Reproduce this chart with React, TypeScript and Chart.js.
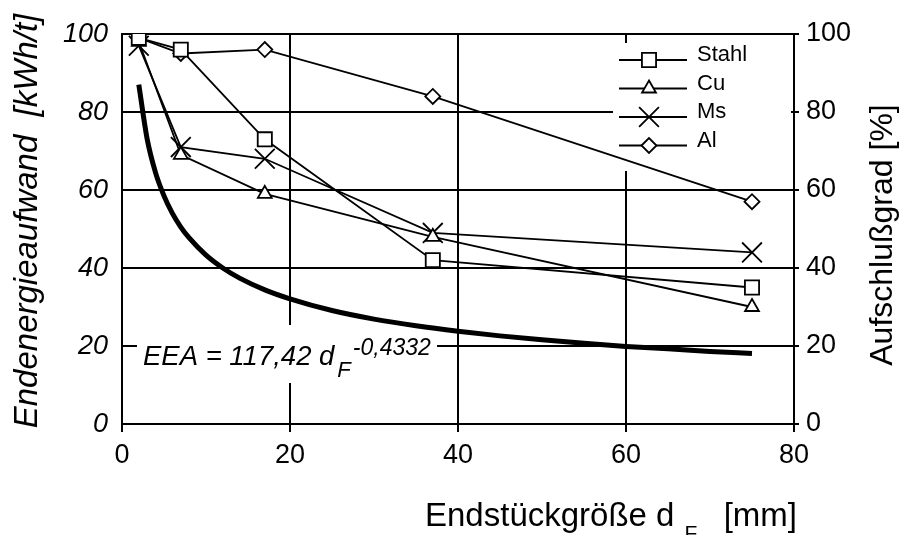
import React, { useEffect, useRef } from "react";
import { Chart, registerables } from "chart.js";
import { drawPoint } from "chart.js/helpers";

Chart.register(...registerables);

// ---- data ----
const sizes = [2, 7, 17, 37, 75];
const stahl = [99, 96, 73, 42, 35];
const cu = [98, 69, 59, 48, 30];
const ms = [97, 71, 68, 49, 44];
const al = [99, 95, 96, 84, 57];

const fitSizes = [2, 3, 4, 5, 6, 7, 8, 10, 12, 14, 17, 20, 25, 30, 35, 40, 45, 50, 55, 60, 65, 70, 75];
const fitEEA = [87.0, 73.0, 64.4, 58.5, 54.0, 50.5, 47.7, 43.3, 40.0, 37.4, 34.4, 32.1, 29.1, 26.9, 25.2, 23.8, 22.6, 21.6, 20.7, 19.9, 19.3, 18.6, 18.1];

const xTicks = [0, 20, 40, 60, 80];
const yTicks = [0, 20, 40, 60, 80, 100];

const seriesNames = ["Stahl", "Cu", "Ms", "Al"];
const seriesValues = [stahl, cu, ms, al];
const seriesStyles = ["rect", "triangle", "crossRot", "rectRot"];
const seriesRadius = [10, 8, 14, 7.5];

const leftTitle = "Endenergieaufwand  [kWh/t]";
const rightTitle = "Aufschlußgrad [%]";
const bottomTitleMain = "Endstückgröße d";
const bottomTitleSub = "F";
const bottomTitleUnit = "[mm]";
const eqMain = "EEA = 117,42 d";
const eqSub = "F";
const eqSup = "-0,4332";

const FONT = "'Liberation Sans', Arial, Helvetica, sans-serif";

const overlay = {
  id: "overlay",
  beforeDatasetsDraw(chart: any) {
    const ctx = chart.ctx;
    ctx.save();
    ctx.fillStyle = "#fff";
    // legend background
    ctx.fillRect(613, 43, 178, 128);
    // equation background
    ctx.fillRect(137, 325, 300, 58);
    ctx.restore();
  },
  afterDraw(chart: any) {
    const ctx = chart.ctx;
    ctx.save();
    ctx.fillStyle = "#000";
    ctx.strokeStyle = "#000";

    // legend
    for (let i = 0; i < seriesNames.length; i++) {
      const ds = chart.data.datasets[i];
      const ly = 60 + i * 28.5;
      ctx.lineWidth = 1.8;
      ctx.beginPath();
      ctx.moveTo(619, ly);
      ctx.lineTo(687, ly);
      ctx.stroke();
      ctx.fillStyle = "#fff";
      ctx.strokeStyle = "#000";
      ctx.lineWidth = 1.8;
      drawPoint(ctx, { pointStyle: ds.pointStyle, radius: ds.pointRadius, rotation: 0, borderWidth: 1.8 }, 649, ly);
      ctx.fillStyle = "#000";
      ctx.font = `22px ${FONT}`;
      ctx.textAlign = "left";
      ctx.textBaseline = "alphabetic";
      ctx.fillText(ds.label, 697, ly + 1);
    }

    // equation
    ctx.fillStyle = "#000";
    ctx.textAlign = "left";
    ctx.textBaseline = "alphabetic";
    ctx.font = `italic 27.5px ${FONT}`;
    ctx.fillText(eqMain, 143, 365);
    const w1 = ctx.measureText(eqMain).width;
    ctx.font = `italic 22px ${FONT}`;
    ctx.fillText(eqSub, 143 + w1 + 3, 377);
    const w2 = ctx.measureText(eqSub).width;
    ctx.font = `italic 23px ${FONT}`;
    ctx.fillText(eqSup, 143 + w1 + 3 + w2 + 2, 355);

    // left title
    ctx.save();
    ctx.translate(37, 221);
    ctx.rotate(-Math.PI / 2);
    ctx.font = `italic 33px ${FONT}`;
    ctx.textAlign = "center";
    ctx.fillText(leftTitle, 0, 0);
    ctx.restore();

    // right title
    ctx.save();
    ctx.translate(892, 235);
    ctx.rotate(-Math.PI / 2);
    ctx.font = `32px ${FONT}`;
    ctx.textAlign = "center";
    ctx.fillText(rightTitle, 0, 0);
    ctx.restore();

    // bottom title
    ctx.font = `33px ${FONT}`;
    ctx.textAlign = "left";
    ctx.fillText(bottomTitleMain, 425, 526);
    const bw = ctx.measureText(bottomTitleMain).width;
    ctx.font = `21px ${FONT}`;
    ctx.fillText(bottomTitleSub, 425 + bw + 10, 540);
    ctx.font = `33px ${FONT}`;
    ctx.textAlign = "right";
    ctx.fillText(bottomTitleUnit, 797, 526);

    ctx.restore();
  },
};

export default function App() {
  const ref = useRef<HTMLCanvasElement | null>(null);

  useEffect(() => {
    if (!ref.current) return;
    const seriesDatasets = seriesNames.map((name, i) => ({
      label: name,
      data: sizes.map((x, j) => ({ x, y: seriesValues[i][j] })),
      yAxisID: "y2",
      borderColor: "#000",
      borderWidth: 1.8,
      pointStyle: seriesStyles[i],
      pointRadius: seriesRadius[i],
      pointBorderWidth: 1.8,
      pointBorderColor: "#000",
      pointBackgroundColor: "#fff",
      tension: 0,
      fill: false,
    }));
    const fitDataset = {
      label: "EEA",
      data: fitSizes.map((x, j) => ({ x, y: fitEEA[j] })),
      yAxisID: "y",
      borderColor: "#000",
      borderWidth: 5,
      pointRadius: 0,
      cubicInterpolationMode: "monotone",
      fill: false,
    };

    const tickFont = { family: FONT, size: 27 };
    const zeroPad = (s: any) => {
      s.paddingTop = 0;
      s.paddingBottom = 0;
      s.paddingLeft = 0;
      s.paddingRight = 0;
    };

    const chart = new Chart(ref.current, {
      type: "line",
      data: { datasets: [...seriesDatasets, fitDataset] as any },
      options: {
        animation: false,
        responsive: false,
        maintainAspectRatio: false,
        layout: { padding: { top: 34, left: 0, right: 0, bottom: 0 } },
        plugins: { legend: { display: false }, tooltip: { enabled: false }, title: { display: false } },
        scales: {
          x: {
            type: "linear",
            min: 0,
            max: 80,
            afterBuildTicks: (s: any) => {
              s.ticks = xTicks.map((v) => ({ value: v }));
            },
            afterFit: (s: any) => {
              s.height = 111;
              zeroPad(s);
            },
            grid: { color: "#000", lineWidth: 2, drawTicks: true, tickLength: 8, tickColor: "#000", tickWidth: 2 },
            border: { color: "#000", width: 2 },
            ticks: { font: tickFont, color: "#000", padding: 7, maxRotation: 0, autoSkip: false },
          },
          y: {
            type: "linear",
            position: "left",
            min: 0,
            max: 100,
            afterBuildTicks: (s: any) => {
              s.ticks = yTicks.map((v) => ({ value: v }));
            },
            afterFit: (s: any) => {
              s.width = 122;
              zeroPad(s);
            },
            grid: { color: "#000", lineWidth: 2, drawTicks: false },
            border: { color: "#000", width: 2 },
            ticks: { font: { ...tickFont, style: "italic" }, color: "#000", padding: 14, autoSkip: false },
          },
          y2: {
            type: "linear",
            position: "right",
            min: 0,
            max: 100,
            afterBuildTicks: (s: any) => {
              s.ticks = yTicks.map((v) => ({ value: v }));
            },
            afterFit: (s: any) => {
              s.width = 110;
              zeroPad(s);
            },
            grid: { color: "#000", lineWidth: 2, drawOnChartArea: false, drawTicks: true, tickLength: 5, tickColor: "#000", tickWidth: 2 },
            border: { color: "#000", width: 2 },
            ticks: { font: tickFont, color: "#000", padding: 7, autoSkip: false },
          },
        },
      } as any,
      plugins: [overlay],
    });
    return () => chart.destroy();
  }, []);

  return (
    <div style={{ position: "fixed", left: 0, top: 0, width: 904, height: 535, background: "#fff" }}>
      <canvas ref={ref} width={904} height={535} style={{ width: 904, height: 535, display: "block" }} />
    </div>
  );
}
